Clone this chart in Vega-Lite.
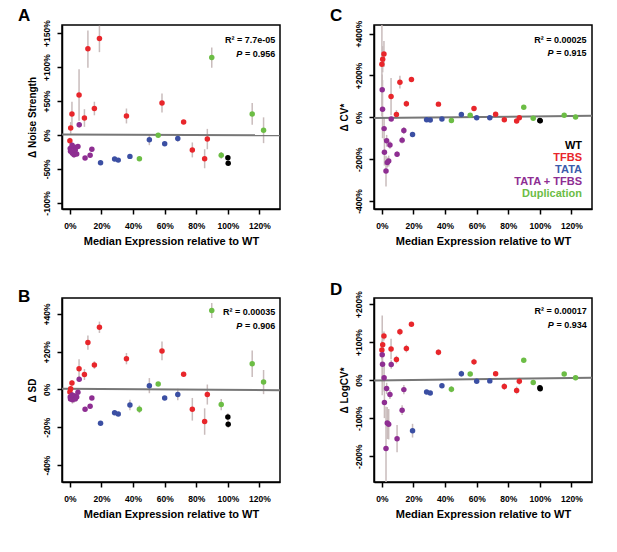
{
"$schema": "https://vega.github.io/schema/vega-lite/v6.json",
"background": "white",
"padding": {"left": 17, "top": 6, "right": 0, "bottom": 0},
"config": {
  "font": "Liberation Sans",
  "view": {"stroke": "#000000", "strokeWidth": 1.5, "strokeOpacity": 1},
  "style": {"cell": {"stroke": "#000000", "strokeWidth": 1.5, "strokeOpacity": 1}},
  "axis": {"labelFont": "Liberation Sans", "labelFontWeight": "bold", "labelFontSize": 8.5, "labelColor": "#000", "titleFont": "Liberation Sans", "titleFontWeight": "bold", "titleFontSize": 11, "titleColor": "#000", "ticks": true, "tickColor": "#000000", "tickOpacity": 1, "tickWidth": 1.5, "tickSize": 5, "domain": true, "domainColor": "#000000", "domainWidth": 1.5, "grid": false, "labelFlush": false, "labelOverlap": false},
  "axisX": {"labelPadding": 7, "titlePadding": 6},
  "axisY": {"labelAngle": 270, "labelAlign": "center", "labelBaseline": "bottom", "labelPadding": 6, "titlePadding": 5, "titleFontSize": 10},
  "legend": {"padding": 0}
},
"datasets": {
"pts": [
{"p":"A","g":"TFBS","x":0.0,"y":-8.4,"lo":-13,"hi":-4},
{"p":"A","g":"TFBS","x":0.5,"y":10.4,"lo":2,"hi":19},
{"p":"A","g":"TFBS","x":1.3,"y":31,"lo":13,"hi":49},
{"p":"A","g":"TFBS","x":5.8,"y":59,"lo":21,"hi":97},
{"p":"A","g":"TFBS","x":9.2,"y":25,"lo":12,"hi":38},
{"p":"A","g":"TFBS","x":11.4,"y":127,"lo":99,"hi":154},
{"p":"A","g":"TFBS","x":15.5,"y":39,"lo":29,"hi":49},
{"p":"A","g":"TFBS","x":18.7,"y":142,"lo":122,"hi":161},
{"p":"A","g":"TFBS","x":35.8,"y":28,"lo":17,"hi":39},
{"p":"A","g":"TFBS","x":58.3,"y":47,"lo":33,"hi":61},
{"p":"A","g":"TFBS","x":72.0,"y":19,"lo":16,"hi":22},
{"p":"A","g":"TFBS","x":77.5,"y":-22,"lo":-33,"hi":-11},
{"p":"A","g":"TFBS","x":85.3,"y":-35,"lo":-49,"hi":-21},
{"p":"A","g":"TFBS","x":87.0,"y":-6,"lo":-21,"hi":9},
{"p":"A","g":"TATA + TFBS","x":0.2,"y":-20,"lo":-24,"hi":-16},
{"p":"A","g":"TATA + TFBS","x":0.4,"y":-24,"lo":-28,"hi":-20},
{"p":"A","g":"TATA + TFBS","x":1.4,"y":-15,"lo":-19,"hi":-11},
{"p":"A","g":"TATA + TFBS","x":1.6,"y":-27,"lo":-31,"hi":-23},
{"p":"A","g":"TATA + TFBS","x":2.6,"y":-29,"lo":-33,"hi":-25},
{"p":"A","g":"TATA + TFBS","x":3.0,"y":-18,"lo":-21,"hi":-15},
{"p":"A","g":"TATA + TFBS","x":3.4,"y":-22,"lo":-25,"hi":-19},
{"p":"A","g":"TATA + TFBS","x":4.3,"y":-28,"lo":-31,"hi":-25},
{"p":"A","g":"TATA + TFBS","x":5.1,"y":-17,"lo":-20,"hi":-14},
{"p":"A","g":"TATA + TFBS","x":5.9,"y":15,"lo":11,"hi":19},
{"p":"A","g":"TATA + TFBS","x":9.6,"y":-34,"lo":-37,"hi":-31},
{"p":"A","g":"TATA + TFBS","x":12.8,"y":-30,"lo":-33,"hi":-27},
{"p":"A","g":"TATA + TFBS","x":13.9,"y":-21,"lo":-24,"hi":-18},
{"p":"A","g":"TATA","x":19.4,"y":-41,"lo":-43,"hi":-39},
{"p":"A","g":"TATA","x":28.3,"y":-35.5,"lo":-37.5,"hi":-33.5},
{"p":"A","g":"TATA","x":30.6,"y":-37,"lo":-39,"hi":-35},
{"p":"A","g":"TATA","x":38.0,"y":-31.5,"lo":-34,"hi":-29},
{"p":"A","g":"TATA","x":50.3,"y":-7,"lo":-15,"hi":1},
{"p":"A","g":"TATA","x":60.0,"y":-13,"lo":-16,"hi":-10},
{"p":"A","g":"TATA","x":68.3,"y":-5,"lo":-10,"hi":0},
{"p":"A","g":"Duplication","x":44.0,"y":-35,"lo":-37,"hi":-33},
{"p":"A","g":"Duplication","x":55.9,"y":-0.5,"lo":-2.5,"hi":1.5},
{"p":"A","g":"Duplication","x":89.8,"y":114,"lo":99,"hi":129},
{"p":"A","g":"Duplication","x":95.8,"y":-30,"lo":-35,"hi":-25},
{"p":"A","g":"Duplication","x":115.4,"y":31,"lo":15,"hi":47},
{"p":"A","g":"Duplication","x":122.6,"y":7,"lo":-12,"hi":26},
{"p":"A","g":"WT","x":100,"y":-33.5,"lo":-35,"hi":-32},
{"p":"A","g":"WT","x":100.2,"y":-41.5,"lo":-43,"hi":-40},

{"p":"B","g":"TFBS","x":0.0,"y":-1.4,"lo":-3,"hi":0.2},
{"p":"B","g":"TFBS","x":0.5,"y":0.4,"lo":-1,"hi":1.8},
{"p":"B","g":"TFBS","x":1.3,"y":3.4,"lo":2,"hi":4.8},
{"p":"B","g":"TFBS","x":5.8,"y":11,"lo":6,"hi":16},
{"p":"B","g":"TFBS","x":9.2,"y":7.9,"lo":5,"hi":10.8},
{"p":"B","g":"TFBS","x":11.4,"y":24.8,"lo":21,"hi":28.6},
{"p":"B","g":"TFBS","x":15.5,"y":12.9,"lo":10.9,"hi":14.9},
{"p":"B","g":"TFBS","x":18.7,"y":32.9,"lo":29.9,"hi":35.9},
{"p":"B","g":"TFBS","x":35.8,"y":16.3,"lo":13.3,"hi":19.3},
{"p":"B","g":"TFBS","x":58.3,"y":20.4,"lo":15.4,"hi":25.4},
{"p":"B","g":"TFBS","x":72.0,"y":8,"lo":7,"hi":9},
{"p":"B","g":"TFBS","x":77.5,"y":-10.5,"lo":-16.5,"hi":-4.5},
{"p":"B","g":"TFBS","x":85.3,"y":-17,"lo":-24,"hi":-10},
{"p":"B","g":"TFBS","x":87.0,"y":-2.7,"lo":-8,"hi":2.6},
{"p":"B","g":"TATA + TFBS","x":0.2,"y":-4,"lo":-5.5,"hi":-2.5},
{"p":"B","g":"TATA + TFBS","x":0.4,"y":-5,"lo":-6.5,"hi":-3.5},
{"p":"B","g":"TATA + TFBS","x":1.4,"y":-3,"lo":-4.5,"hi":-1.5},
{"p":"B","g":"TATA + TFBS","x":1.6,"y":-5.5,"lo":-7.5,"hi":-3.5},
{"p":"B","g":"TATA + TFBS","x":2.6,"y":-4.5,"lo":-7,"hi":-2},
{"p":"B","g":"TATA + TFBS","x":3.0,"y":-3.5,"lo":-5,"hi":-2},
{"p":"B","g":"TATA + TFBS","x":3.4,"y":-5,"lo":-6.5,"hi":-3.5},
{"p":"B","g":"TATA + TFBS","x":4.3,"y":-4,"lo":-5.5,"hi":-2.5},
{"p":"B","g":"TATA + TFBS","x":5.1,"y":-1.5,"lo":-3,"hi":0},
{"p":"B","g":"TATA + TFBS","x":5.9,"y":5.4,"lo":3.9,"hi":6.9},
{"p":"B","g":"TATA + TFBS","x":9.6,"y":-10.5,"lo":-11.5,"hi":-9.5},
{"p":"B","g":"TATA + TFBS","x":12.8,"y":-8.9,"lo":-10,"hi":-7.8},
{"p":"B","g":"TATA + TFBS","x":13.9,"y":-4.5,"lo":-5.5,"hi":-3.5},
{"p":"B","g":"TATA","x":19.4,"y":-17.9,"lo":-18.9,"hi":-16.9},
{"p":"B","g":"TATA","x":28.3,"y":-12.3,"lo":-13.3,"hi":-11.3},
{"p":"B","g":"TATA","x":30.6,"y":-13,"lo":-14,"hi":-12},
{"p":"B","g":"TATA","x":38.0,"y":-8.2,"lo":-11,"hi":-5.4},
{"p":"B","g":"TATA","x":50.3,"y":2,"lo":-2,"hi":6},
{"p":"B","g":"TATA","x":60.0,"y":-4.5,"lo":-5.5,"hi":-3.5},
{"p":"B","g":"TATA","x":68.3,"y":-2.7,"lo":-5.7,"hi":0.3},
{"p":"B","g":"Duplication","x":44.0,"y":-10.5,"lo":-12.5,"hi":-8.5},
{"p":"B","g":"Duplication","x":55.9,"y":2.9,"lo":1.9,"hi":3.9},
{"p":"B","g":"Duplication","x":89.8,"y":41.8,"lo":37.8,"hi":45.8},
{"p":"B","g":"Duplication","x":95.8,"y":-8,"lo":-11,"hi":-5},
{"p":"B","g":"Duplication","x":115.4,"y":13.6,"lo":6.6,"hi":20.6},
{"p":"B","g":"Duplication","x":122.6,"y":3.9,"lo":-2.5,"hi":10.3},
{"p":"B","g":"WT","x":100,"y":-14.6,"lo":-16.6,"hi":-12.6},
{"p":"B","g":"WT","x":100.2,"y":-18.4,"lo":-20.4,"hi":-16.4},

{"p":"C","g":"TFBS","x":0.0,"y":254,"lo":5,"hi":500},
{"p":"C","g":"TFBS","x":0.5,"y":277,"lo":215,"hi":340},
{"p":"C","g":"TFBS","x":1.3,"y":302,"lo":240,"hi":365},
{"p":"C","g":"TFBS","x":5.8,"y":99,"lo":10,"hi":188},
{"p":"C","g":"TFBS","x":9.2,"y":14,"lo":-6,"hi":34},
{"p":"C","g":"TFBS","x":11.4,"y":168,"lo":138,"hi":198},
{"p":"C","g":"TFBS","x":15.5,"y":65,"lo":50,"hi":80},
{"p":"C","g":"TFBS","x":18.7,"y":181,"lo":171,"hi":191},
{"p":"C","g":"TFBS","x":35.8,"y":63,"lo":56,"hi":70},
{"p":"C","g":"TFBS","x":58.3,"y":42,"lo":35,"hi":49},
{"p":"C","g":"TFBS","x":72.0,"y":15,"lo":11,"hi":19},
{"p":"C","g":"TFBS","x":77.5,"y":-12,"lo":-17,"hi":-7},
{"p":"C","g":"TFBS","x":85.3,"y":-18,"lo":-23,"hi":-13},
{"p":"C","g":"TFBS","x":87.0,"y":-2,"lo":-7,"hi":3},
{"p":"C","g":"TATA + TFBS","x":0.2,"y":132,"lo":60,"hi":204},
{"p":"C","g":"TATA + TFBS","x":0.4,"y":39,"lo":-100,"hi":178},
{"p":"C","g":"TATA + TFBS","x":1.4,"y":-54,"lo":-110,"hi":2},
{"p":"C","g":"TATA + TFBS","x":1.6,"y":-167,"lo":-230,"hi":-104},
{"p":"C","g":"TATA + TFBS","x":2.6,"y":-257,"lo":-330,"hi":-184},
{"p":"C","g":"TATA + TFBS","x":3.0,"y":-112,"lo":-140,"hi":-84},
{"p":"C","g":"TATA + TFBS","x":3.4,"y":-216,"lo":-240,"hi":-192},
{"p":"C","g":"TATA + TFBS","x":4.3,"y":-209,"lo":-235,"hi":-183},
{"p":"C","g":"TATA + TFBS","x":5.1,"y":-132,"lo":-150,"hi":-114},
{"p":"C","g":"TATA + TFBS","x":5.9,"y":-8,"lo":-18,"hi":2},
{"p":"C","g":"TATA + TFBS","x":9.6,"y":-176,"lo":-190,"hi":-162},
{"p":"C","g":"TATA + TFBS","x":12.8,"y":-109,"lo":-125,"hi":-93},
{"p":"C","g":"TATA + TFBS","x":13.9,"y":-63,"lo":-80,"hi":-46},
{"p":"C","g":"TATA","x":19.4,"y":-82,"lo":-92,"hi":-72},
{"p":"C","g":"TATA","x":28.3,"y":-12,"lo":-16,"hi":-8},
{"p":"C","g":"TATA","x":30.6,"y":-13,"lo":-17,"hi":-9},
{"p":"C","g":"TATA","x":38.0,"y":-8,"lo":-12,"hi":-4},
{"p":"C","g":"TATA","x":50.3,"y":13,"lo":7,"hi":19},
{"p":"C","g":"TATA","x":60.0,"y":-2,"lo":-6,"hi":2},
{"p":"C","g":"TATA","x":68.3,"y":-2,"lo":-6,"hi":2},
{"p":"C","g":"Duplication","x":44.0,"y":-15,"lo":-20,"hi":-10},
{"p":"C","g":"Duplication","x":55.9,"y":10,"lo":5,"hi":15},
{"p":"C","g":"Duplication","x":89.8,"y":48,"lo":43,"hi":53},
{"p":"C","g":"Duplication","x":95.8,"y":-4,"lo":-8,"hi":0},
{"p":"C","g":"Duplication","x":115.4,"y":10,"lo":5,"hi":15},
{"p":"C","g":"Duplication","x":122.6,"y":2,"lo":-2,"hi":6},
{"p":"C","g":"WT","x":100,"y":-15,"lo":-18,"hi":-12},
{"p":"C","g":"WT","x":100.2,"y":-17,"lo":-20,"hi":-14},

{"p":"D","g":"TFBS","x":0.0,"y":79,"lo":55,"hi":103},
{"p":"D","g":"TFBS","x":0.5,"y":93,"lo":78,"hi":108},
{"p":"D","g":"TFBS","x":1.3,"y":116,"lo":104,"hi":128},
{"p":"D","g":"TFBS","x":5.8,"y":82,"lo":55,"hi":109},
{"p":"D","g":"TFBS","x":9.2,"y":54,"lo":44,"hi":64},
{"p":"D","g":"TFBS","x":11.4,"y":127,"lo":118,"hi":136},
{"p":"D","g":"TFBS","x":15.5,"y":83,"lo":73,"hi":93},
{"p":"D","g":"TFBS","x":18.7,"y":147,"lo":142,"hi":152},
{"p":"D","g":"TFBS","x":35.8,"y":73,"lo":65,"hi":81},
{"p":"D","g":"TFBS","x":58.3,"y":48,"lo":40,"hi":56},
{"p":"D","g":"TFBS","x":72.0,"y":17,"lo":12,"hi":22},
{"p":"D","g":"TFBS","x":77.5,"y":-17,"lo":-26,"hi":-8},
{"p":"D","g":"TFBS","x":85.3,"y":-27,"lo":-37,"hi":-17},
{"p":"D","g":"TFBS","x":87.0,"y":-3,"lo":-12,"hi":6},
{"p":"D","g":"TATA + TFBS","x":0.2,"y":67,"lo":-40,"hi":170},
{"p":"D","g":"TATA + TFBS","x":0.4,"y":42,"lo":-5,"hi":89},
{"p":"D","g":"TATA + TFBS","x":1.4,"y":6,"lo":-30,"hi":42},
{"p":"D","g":"TATA + TFBS","x":1.6,"y":-59,"lo":-100,"hi":-18},
{"p":"D","g":"TATA + TFBS","x":2.6,"y":-180,"lo":-290,"hi":-70},
{"p":"D","g":"TATA + TFBS","x":3.0,"y":-22,"lo":-37,"hi":-7},
{"p":"D","g":"TATA + TFBS","x":3.4,"y":-113,"lo":-155,"hi":-71},
{"p":"D","g":"TATA + TFBS","x":4.3,"y":-116,"lo":-156,"hi":-76},
{"p":"D","g":"TATA + TFBS","x":5.1,"y":-38,"lo":-50,"hi":-26},
{"p":"D","g":"TATA + TFBS","x":5.9,"y":41,"lo":30,"hi":52},
{"p":"D","g":"TATA + TFBS","x":9.6,"y":-154,"lo":-190,"hi":-118},
{"p":"D","g":"TATA + TFBS","x":12.8,"y":-79,"lo":-92,"hi":-66},
{"p":"D","g":"TATA + TFBS","x":13.9,"y":-25,"lo":-37,"hi":-13},
{"p":"D","g":"TATA","x":19.4,"y":-133,"lo":-151,"hi":-115},
{"p":"D","g":"TATA","x":28.3,"y":-31,"lo":-35,"hi":-27},
{"p":"D","g":"TATA","x":30.6,"y":-34,"lo":-38,"hi":-30},
{"p":"D","g":"TATA","x":38.0,"y":-15,"lo":-21,"hi":-9},
{"p":"D","g":"TATA","x":50.3,"y":17,"lo":9,"hi":25},
{"p":"D","g":"TATA","x":60.0,"y":-3,"lo":-7,"hi":1},
{"p":"D","g":"TATA","x":68.3,"y":-2,"lo":-6,"hi":2},
{"p":"D","g":"Duplication","x":44.0,"y":-24,"lo":-32,"hi":-16},
{"p":"D","g":"Duplication","x":55.9,"y":16,"lo":12,"hi":20},
{"p":"D","g":"Duplication","x":89.8,"y":52,"lo":47,"hi":57},
{"p":"D","g":"Duplication","x":95.8,"y":-6,"lo":-11,"hi":-1},
{"p":"D","g":"Duplication","x":115.4,"y":16,"lo":11,"hi":21},
{"p":"D","g":"Duplication","x":122.6,"y":6,"lo":0,"hi":12},
{"p":"D","g":"WT","x":100,"y":-20,"lo":-23,"hi":-17},
{"p":"D","g":"WT","x":100.2,"y":-23,"lo":-26,"hi":-20}
],
"fit": [
{"p":"A","x":-5,"y":0.8},{"p":"A","x":133,"y":-0.5},
{"p":"B","x":-5,"y":0.4},{"p":"B","x":133,"y":-0.4},
{"p":"C","x":-5,"y":-3},{"p":"C","x":133,"y":7},
{"p":"D","x":-5,"y":-1},{"p":"D","x":133,"y":6}
]
},
"columns": 2,
"spacing": {"row": 31, "column": 48},
"resolve": {"scale": {"color": "independent"}, "legend": {"color": "independent"}},
"concat": [
{
 "width": 218, "height": 184,
 "view": {"stroke": "#000000", "strokeWidth": 1.5},
 "title": {"text": "A", "anchor": "start", "frame": "group", "dx": -44, "fontSize": 17, "fontWeight": "bold", "font": "Liberation Sans", "baseline": "alphabetic", "offset": 0, "dy": 18, "color": "#000"},
 "layer": [
  {"data": {"name": "pts"}, "transform": [{"filter": "datum.p === 'A'"}], "mark": {"type": "rule", "clip": true, "color": "#c9bcbc", "strokeWidth": 1.5},
   "encoding": {
     "x": {"field": "x", "type": "quantitative", "title": "Median Expression relative to WT", "scale": {"domain": [-5, 133], "nice": false, "zero": false}, "axis": {"values": [0,20,40,60,80,100,120], "labelExpr": "datum.value + '%'", "labelOverlap": false}},
     "y": {"field": "lo", "type": "quantitative", "title": "Δ Noise Strength", "scale": {"domain": [-109, 162], "nice": false, "zero": false}, "axis": {"values": [-100,-50,0,50,100,150], "labelOverlap": false, "labelExpr": "(datum.value > 0 ? '+' : '') + datum.value + '%'"}}, "y2": {"field": "hi"}}},
  {"data": {"name": "fit"}, "transform": [{"filter": "datum.p === 'A'"}], "mark": {"type": "line", "clip": true, "color": "#777777", "strokeWidth": 2},
   "encoding": {
     "x": {"field": "x", "type": "quantitative", "title": "Median Expression relative to WT", "axis": {"values": [0,20,40,60,80,100,120], "labelExpr": "datum.value + '%'", "labelOverlap": false}},
     "y": {"field": "y", "type": "quantitative", "title": "Δ Noise Strength", "axis": {"values": [-100,-50,0,50,100,150], "labelOverlap": false, "labelExpr": "(datum.value > 0 ? '+' : '') + datum.value + '%'"}}}},
  {"data": {"name": "pts"}, "transform": [{"filter": "datum.p === 'A'"}], "mark": {"type": "circle", "size": 30, "opacity": 1},
   "encoding": {
     "x": {"field": "x", "type": "quantitative", "title": "Median Expression relative to WT", "axis": {"values": [0,20,40,60,80,100,120], "labelExpr": "datum.value + '%'", "labelOverlap": false}},
     "y": {"field": "y", "type": "quantitative", "title": "Δ Noise Strength", "axis": {"values": [-100,-50,0,50,100,150], "labelOverlap": false, "labelExpr": "(datum.value > 0 ? '+' : '') + datum.value + '%'"}},
     "color": {"field": "g", "type": "nominal", "scale": {"domain": ["WT","TFBS","TATA","TATA + TFBS","Duplication"], "range": ["#000000","#e8262b","#3b4fa3","#8e2e92","#6cbd45"]}, "legend": null}}},
  {"data": {"values": [{"label": "R² = 7.7e-05"}]}, "mark": {"type": "text", "align": "right", "baseline": "middle", "fontSize": 9, "fontWeight": "bold", "fill": "#000"},
   "encoding": {
     "x": {"datum": 130, "type": "quantitative", "title": "Median Expression relative to WT", "axis": {"values": [0,20,40,60,80,100,120], "labelExpr": "datum.value + '%'", "labelOverlap": false}},
     "y": {"datum": 140, "type": "quantitative", "title": "Δ Noise Strength", "axis": {"values": [-100,-50,0,50,100,150], "labelOverlap": false, "labelExpr": "(datum.value > 0 ? '+' : '') + datum.value + '%'"}},
     "text": {"field": "label", "type": "nominal"}}},
  {"data": {"values": [{"label": " = 0.956"}]}, "mark": {"type": "text", "align": "right", "baseline": "middle", "fontSize": 9, "fontWeight": "bold", "fill": "#000"},
   "encoding": {
     "x": {"datum": 130, "type": "quantitative", "title": "Median Expression relative to WT", "axis": {"values": [0,20,40,60,80,100,120], "labelExpr": "datum.value + '%'", "labelOverlap": false}},
     "y": {"datum": 120, "type": "quantitative", "title": "Δ Noise Strength", "axis": {"values": [-100,-50,0,50,100,150], "labelOverlap": false, "labelExpr": "(datum.value > 0 ? '+' : '') + datum.value + '%'"}},
     "text": {"field": "label", "type": "nominal"}}},
  {"data": {"values": [{"label": "P"}]}, "mark": {"type": "text", "align": "right", "baseline": "middle", "fontSize": 9, "fontWeight": "bold", "fontStyle": "italic", "dx": -33, "fill": "#000"},
   "encoding": {
     "x": {"datum": 130, "type": "quantitative", "title": "Median Expression relative to WT", "axis": {"values": [0,20,40,60,80,100,120], "labelExpr": "datum.value + '%'", "labelOverlap": false}},
     "y": {"datum": 120, "type": "quantitative", "title": "Δ Noise Strength", "axis": {"values": [-100,-50,0,50,100,150], "labelOverlap": false, "labelExpr": "(datum.value > 0 ? '+' : '') + datum.value + '%'"}},
     "text": {"field": "label", "type": "nominal"}}}
 ]
},
{
 "width": 218, "height": 184,
 "view": {"stroke": "#000000", "strokeWidth": 1.5},
 "title": {"text": "C", "anchor": "start", "frame": "group", "dx": -44, "fontSize": 17, "fontWeight": "bold", "font": "Liberation Sans", "baseline": "alphabetic", "offset": 0, "dy": 18, "color": "#000"},
 "layer": [
  {"data": {"name": "pts"}, "transform": [{"filter": "datum.p === 'C'"}], "mark": {"type": "rule", "clip": true, "color": "#c9bcbc", "strokeWidth": 1.5},
   "encoding": {
     "x": {"field": "x", "type": "quantitative", "title": "Median Expression relative to WT", "scale": {"domain": [-5, 133], "nice": false, "zero": false}, "axis": {"values": [0,20,40,60,80,100,120], "labelExpr": "datum.value + '%'", "labelOverlap": false}},
     "y": {"field": "lo", "type": "quantitative", "title": "Δ CV*", "scale": {"domain": [-438, 441], "nice": false, "zero": false}, "axis": {"values": [-400,-200,0,200,400], "labelOverlap": false, "labelExpr": "(datum.value > 0 ? '+' : '') + datum.value + '%'"}}, "y2": {"field": "hi"}}},
  {"data": {"name": "fit"}, "transform": [{"filter": "datum.p === 'C'"}], "mark": {"type": "line", "clip": true, "color": "#777777", "strokeWidth": 2},
   "encoding": {
     "x": {"field": "x", "type": "quantitative", "title": "Median Expression relative to WT", "axis": {"values": [0,20,40,60,80,100,120], "labelExpr": "datum.value + '%'", "labelOverlap": false}},
     "y": {"field": "y", "type": "quantitative", "title": "Δ CV*", "axis": {"values": [-400,-200,0,200,400], "labelOverlap": false, "labelExpr": "(datum.value > 0 ? '+' : '') + datum.value + '%'"}}}},
  {"data": {"name": "pts"}, "transform": [{"filter": "datum.p === 'C'"}], "mark": {"type": "circle", "size": 30, "opacity": 1},
   "encoding": {
     "x": {"field": "x", "type": "quantitative", "title": "Median Expression relative to WT", "axis": {"values": [0,20,40,60,80,100,120], "labelExpr": "datum.value + '%'", "labelOverlap": false}},
     "y": {"field": "y", "type": "quantitative", "title": "Δ CV*", "axis": {"values": [-400,-200,0,200,400], "labelOverlap": false, "labelExpr": "(datum.value > 0 ? '+' : '') + datum.value + '%'"}},
     "color": {"field": "g", "type": "nominal", "scale": {"domain": ["WT","TFBS","TATA","TATA + TFBS","Duplication"], "range": ["#000000","#e8262b","#3b4fa3","#8e2e92","#6cbd45"]},
     "legend": {"orient": "bottom-right", "title": null, "offset": 10, "symbolSize": 0, "symbolStrokeWidth": 0, "symbolOpacity": 0, "labelFontSize": 11, "labelFontWeight": "bold", "labelFont": "Liberation Sans", "labelAlign": "right", "rowPadding": 0, "labelOffset": 0,
       "encode": {"labels": {"update": {"fill": {"signal": "datum.value === 'WT' ? '#000000' : datum.value === 'TFBS' ? '#e8262b' : datum.value === 'TATA' ? '#3b5bab' : datum.value === 'TATA + TFBS' ? '#8e2e92' : '#6cbd45'"}}}}}}}},
  {"data": {"values": [{"label": "R² = 0.00025"}]}, "mark": {"type": "text", "align": "right", "baseline": "middle", "fontSize": 9, "fontWeight": "bold", "fill": "#000"},
   "encoding": {
     "x": {"datum": 129.5, "type": "quantitative", "title": "Median Expression relative to WT", "axis": {"values": [0,20,40,60,80,100,120], "labelExpr": "datum.value + '%'", "labelOverlap": false}},
     "y": {"datum": 369, "type": "quantitative", "title": "Δ CV*", "axis": {"values": [-400,-200,0,200,400], "labelOverlap": false, "labelExpr": "(datum.value > 0 ? '+' : '') + datum.value + '%'"}},
     "text": {"field": "label", "type": "nominal"}}},
  {"data": {"values": [{"label": " = 0.915"}]}, "mark": {"type": "text", "align": "right", "baseline": "middle", "fontSize": 9, "fontWeight": "bold", "fill": "#000"},
   "encoding": {
     "x": {"datum": 129.5, "type": "quantitative", "title": "Median Expression relative to WT", "axis": {"values": [0,20,40,60,80,100,120], "labelExpr": "datum.value + '%'", "labelOverlap": false}},
     "y": {"datum": 305, "type": "quantitative", "title": "Δ CV*", "axis": {"values": [-400,-200,0,200,400], "labelOverlap": false, "labelExpr": "(datum.value > 0 ? '+' : '') + datum.value + '%'"}},
     "text": {"field": "label", "type": "nominal"}}},
  {"data": {"values": [{"label": "P"}]}, "mark": {"type": "text", "align": "right", "baseline": "middle", "fontSize": 9, "fontWeight": "bold", "fontStyle": "italic", "dx": -33, "fill": "#000"},
   "encoding": {
     "x": {"datum": 129.5, "type": "quantitative", "title": "Median Expression relative to WT", "axis": {"values": [0,20,40,60,80,100,120], "labelExpr": "datum.value + '%'", "labelOverlap": false}},
     "y": {"datum": 305, "type": "quantitative", "title": "Δ CV*", "axis": {"values": [-400,-200,0,200,400], "labelOverlap": false, "labelExpr": "(datum.value > 0 ? '+' : '') + datum.value + '%'"}},
     "text": {"field": "label", "type": "nominal"}}}
 ]
},
{
 "width": 218, "height": 184,
 "view": {"stroke": "#000000", "strokeWidth": 1.5},
 "title": {"text": "B", "anchor": "start", "frame": "group", "dx": -44, "fontSize": 17, "fontWeight": "bold", "font": "Liberation Sans", "baseline": "alphabetic", "offset": 0, "dy": 21, "color": "#000"},
 "layer": [
  {"data": {"name": "pts"}, "transform": [{"filter": "datum.p === 'B'"}], "mark": {"type": "rule", "clip": true, "color": "#c9bcbc", "strokeWidth": 1.5},
   "encoding": {
     "x": {"field": "x", "type": "quantitative", "title": "Median Expression relative to WT", "scale": {"domain": [-5, 133], "nice": false, "zero": false}, "axis": {"values": [0,20,40,60,80,100,120], "labelExpr": "datum.value + '%'", "labelOverlap": false}},
     "y": {"field": "lo", "type": "quantitative", "title": "Δ SD", "scale": {"domain": [-49, 48.4], "nice": false, "zero": false}, "axis": {"values": [-40,-20,0,20,40], "labelOverlap": false, "labelExpr": "(datum.value > 0 ? '+' : '') + datum.value + '%'"}}, "y2": {"field": "hi"}}},
  {"data": {"name": "fit"}, "transform": [{"filter": "datum.p === 'B'"}], "mark": {"type": "line", "clip": true, "color": "#777777", "strokeWidth": 2},
   "encoding": {
     "x": {"field": "x", "type": "quantitative", "title": "Median Expression relative to WT", "axis": {"values": [0,20,40,60,80,100,120], "labelExpr": "datum.value + '%'", "labelOverlap": false}},
     "y": {"field": "y", "type": "quantitative", "title": "Δ SD", "axis": {"values": [-40,-20,0,20,40], "labelOverlap": false, "labelExpr": "(datum.value > 0 ? '+' : '') + datum.value + '%'"}}}},
  {"data": {"name": "pts"}, "transform": [{"filter": "datum.p === 'B'"}], "mark": {"type": "circle", "size": 30, "opacity": 1},
   "encoding": {
     "x": {"field": "x", "type": "quantitative", "title": "Median Expression relative to WT", "axis": {"values": [0,20,40,60,80,100,120], "labelExpr": "datum.value + '%'", "labelOverlap": false}},
     "y": {"field": "y", "type": "quantitative", "title": "Δ SD", "axis": {"values": [-40,-20,0,20,40], "labelOverlap": false, "labelExpr": "(datum.value > 0 ? '+' : '') + datum.value + '%'"}},
     "color": {"field": "g", "type": "nominal", "scale": {"domain": ["WT","TFBS","TATA","TATA + TFBS","Duplication"], "range": ["#000000","#e8262b","#3b4fa3","#8e2e92","#6cbd45"]}, "legend": null}}},
  {"data": {"values": [{"label": "R² = 0.00035"}]}, "mark": {"type": "text", "align": "right", "baseline": "middle", "fontSize": 9, "fontWeight": "bold", "fill": "#000"},
   "encoding": {
     "x": {"datum": 130, "type": "quantitative", "title": "Median Expression relative to WT", "axis": {"values": [0,20,40,60,80,100,120], "labelExpr": "datum.value + '%'", "labelOverlap": false}},
     "y": {"datum": 40.9, "type": "quantitative", "title": "Δ SD", "axis": {"values": [-40,-20,0,20,40], "labelOverlap": false, "labelExpr": "(datum.value > 0 ? '+' : '') + datum.value + '%'"}},
     "text": {"field": "label", "type": "nominal"}}},
  {"data": {"values": [{"label": " = 0.906"}]}, "mark": {"type": "text", "align": "right", "baseline": "middle", "fontSize": 9, "fontWeight": "bold", "fill": "#000"},
   "encoding": {
     "x": {"datum": 130, "type": "quantitative", "title": "Median Expression relative to WT", "axis": {"values": [0,20,40,60,80,100,120], "labelExpr": "datum.value + '%'", "labelOverlap": false}},
     "y": {"datum": 33.7, "type": "quantitative", "title": "Δ SD", "axis": {"values": [-40,-20,0,20,40], "labelOverlap": false, "labelExpr": "(datum.value > 0 ? '+' : '') + datum.value + '%'"}},
     "text": {"field": "label", "type": "nominal"}}},
  {"data": {"values": [{"label": "P"}]}, "mark": {"type": "text", "align": "right", "baseline": "middle", "fontSize": 9, "fontWeight": "bold", "fontStyle": "italic", "dx": -33, "fill": "#000"},
   "encoding": {
     "x": {"datum": 130, "type": "quantitative", "title": "Median Expression relative to WT", "axis": {"values": [0,20,40,60,80,100,120], "labelExpr": "datum.value + '%'", "labelOverlap": false}},
     "y": {"datum": 33.7, "type": "quantitative", "title": "Δ SD", "axis": {"values": [-40,-20,0,20,40], "labelOverlap": false, "labelExpr": "(datum.value > 0 ? '+' : '') + datum.value + '%'"}},
     "text": {"field": "label", "type": "nominal"}}}
 ]
},
{
 "width": 218, "height": 184,
 "view": {"stroke": "#000000", "strokeWidth": 1.5},
 "title": {"text": "D", "anchor": "start", "frame": "group", "dx": -44, "fontSize": 17, "fontWeight": "bold", "font": "Liberation Sans", "baseline": "alphabetic", "offset": 0, "dy": 21, "color": "#000"},
 "layer": [
  {"data": {"name": "pts"}, "transform": [{"filter": "datum.p === 'D'"}], "mark": {"type": "rule", "clip": true, "color": "#c9bcbc", "strokeWidth": 1.5},
   "encoding": {
     "x": {"field": "x", "type": "quantitative", "title": "Median Expression relative to WT", "scale": {"domain": [-5, 133], "nice": false, "zero": false}, "axis": {"values": [0,20,40,60,80,100,120], "labelExpr": "datum.value + '%'", "labelOverlap": false}},
     "y": {"field": "lo", "type": "quantitative", "title": "Δ LogCV*", "scale": {"domain": [-268, 216], "nice": false, "zero": false}, "axis": {"values": [-200,-100,0,100,200], "labelOverlap": false, "labelExpr": "(datum.value > 0 ? '+' : '') + datum.value + '%'"}}, "y2": {"field": "hi"}}},
  {"data": {"name": "fit"}, "transform": [{"filter": "datum.p === 'D'"}], "mark": {"type": "line", "clip": true, "color": "#777777", "strokeWidth": 2},
   "encoding": {
     "x": {"field": "x", "type": "quantitative", "title": "Median Expression relative to WT", "axis": {"values": [0,20,40,60,80,100,120], "labelExpr": "datum.value + '%'", "labelOverlap": false}},
     "y": {"field": "y", "type": "quantitative", "title": "Δ LogCV*", "axis": {"values": [-200,-100,0,100,200], "labelOverlap": false, "labelExpr": "(datum.value > 0 ? '+' : '') + datum.value + '%'"}}}},
  {"data": {"name": "pts"}, "transform": [{"filter": "datum.p === 'D'"}], "mark": {"type": "circle", "size": 30, "opacity": 1},
   "encoding": {
     "x": {"field": "x", "type": "quantitative", "title": "Median Expression relative to WT", "axis": {"values": [0,20,40,60,80,100,120], "labelExpr": "datum.value + '%'", "labelOverlap": false}},
     "y": {"field": "y", "type": "quantitative", "title": "Δ LogCV*", "axis": {"values": [-200,-100,0,100,200], "labelOverlap": false, "labelExpr": "(datum.value > 0 ? '+' : '') + datum.value + '%'"}},
     "color": {"field": "g", "type": "nominal", "scale": {"domain": ["WT","TFBS","TATA","TATA + TFBS","Duplication"], "range": ["#000000","#e8262b","#3b4fa3","#8e2e92","#6cbd45"]}, "legend": null}}},
  {"data": {"values": [{"label": "R² = 0.00017"}]}, "mark": {"type": "text", "align": "right", "baseline": "middle", "fontSize": 9, "fontWeight": "bold", "fill": "#000"},
   "encoding": {
     "x": {"datum": 129.7, "type": "quantitative", "title": "Median Expression relative to WT", "axis": {"values": [0,20,40,60,80,100,120], "labelExpr": "datum.value + '%'", "labelOverlap": false}},
     "y": {"datum": 181, "type": "quantitative", "title": "Δ LogCV*", "axis": {"values": [-200,-100,0,100,200], "labelOverlap": false, "labelExpr": "(datum.value > 0 ? '+' : '') + datum.value + '%'"}},
     "text": {"field": "label", "type": "nominal"}}},
  {"data": {"values": [{"label": " = 0.934"}]}, "mark": {"type": "text", "align": "right", "baseline": "middle", "fontSize": 9, "fontWeight": "bold", "fill": "#000"},
   "encoding": {
     "x": {"datum": 129.7, "type": "quantitative", "title": "Median Expression relative to WT", "axis": {"values": [0,20,40,60,80,100,120], "labelExpr": "datum.value + '%'", "labelOverlap": false}},
     "y": {"datum": 146, "type": "quantitative", "title": "Δ LogCV*", "axis": {"values": [-200,-100,0,100,200], "labelOverlap": false, "labelExpr": "(datum.value > 0 ? '+' : '') + datum.value + '%'"}},
     "text": {"field": "label", "type": "nominal"}}},
  {"data": {"values": [{"label": "P"}]}, "mark": {"type": "text", "align": "right", "baseline": "middle", "fontSize": 9, "fontWeight": "bold", "fontStyle": "italic", "dx": -33, "fill": "#000"},
   "encoding": {
     "x": {"datum": 129.7, "type": "quantitative", "title": "Median Expression relative to WT", "axis": {"values": [0,20,40,60,80,100,120], "labelExpr": "datum.value + '%'", "labelOverlap": false}},
     "y": {"datum": 146, "type": "quantitative", "title": "Δ LogCV*", "axis": {"values": [-200,-100,0,100,200], "labelOverlap": false, "labelExpr": "(datum.value > 0 ? '+' : '') + datum.value + '%'"}},
     "text": {"field": "label", "type": "nominal"}}}
 ]
}
]
}
